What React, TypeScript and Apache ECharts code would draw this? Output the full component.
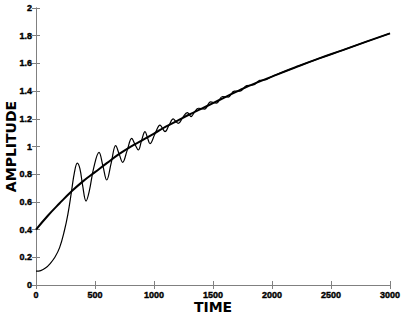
import React, { useEffect, useRef } from "react";
import * as echarts from "echarts";

// smooth (envelope) curve: [time, amplitude]
const smoothTime = [0, 100, 200, 300, 400, 500, 600, 700, 800, 900, 1000, 1100, 1200, 1300, 1400, 1500, 1600, 1700, 1800, 2000, 2200, 2400, 2600, 2800, 3000];
const smoothAmp = [0.40, 0.50, 0.59, 0.675, 0.75, 0.815, 0.88, 0.943, 0.998, 1.045, 1.093, 1.143, 1.187, 1.231, 1.272, 1.313, 1.355, 1.396, 1.436, 1.505, 1.572, 1.636, 1.696, 1.757, 1.817];

// oscillating curve: [time, amplitude]
const oscTime = [0, 40, 80, 120, 160, 200, 240, 270, 300, 325, 350, 372, 395, 424, 452, 490, 534, 567, 599, 637, 675, 705, 734, 772, 811, 839, 867, 895, 924, 945, 966, 1008, 1051, 1072, 1093, 1128, 1163, 1185, 1206, 1244, 1282, 1298, 1313, 1345, 1376, 1428, 1480, 1530, 1580, 1630, 1680, 1730, 1785, 1840, 1895, 1950, 2000, 2200, 2400, 2600, 2800, 3000];
const oscAmp = [0.100, 0.104, 0.122, 0.155, 0.20, 0.27, 0.39, 0.51, 0.67, 0.81, 0.88, 0.84, 0.72, 0.606, 0.68, 0.85, 0.958, 0.86, 0.758, 0.88, 1.006, 0.945, 0.886, 0.97, 1.059, 1.015, 0.975, 1.045, 1.107, 1.063, 1.02, 1.09, 1.155, 1.131, 1.107, 1.155, 1.20, 1.18, 1.167, 1.21, 1.245, 1.232, 1.215, 1.25, 1.276, 1.270, 1.322, 1.313, 1.361, 1.357, 1.400, 1.400, 1.440, 1.444, 1.477, 1.483, 1.505, 1.572, 1.636, 1.696, 1.757, 1.817];

const xTicks = ["0", "500", "1000", "1500", "2000", "2500", "3000"];
const yTicks = ["0", "0.2", "0.4", "0.6", "0.8", "1", "1.2", "1.4", "1.6", "1.8", "2"];

export default function App() {
  const ref = useRef<HTMLDivElement>(null);
  useEffect(() => {
    if (!ref.current) return;
    const chart = echarts.init(ref.current, null, { renderer: "svg" });
    const axisGrey = "#808080";
    const labelFont = { color: "#000", fontWeight: 700, fontSize: 9, fontFamily: "'Liberation Sans', Arial, sans-serif", textBorderColor: "#000", textBorderWidth: 0.4 };
    const nameFont = { color: "#000", fontWeight: 700, fontSize: 14, fontFamily: "'DejaVu Sans', sans-serif" };
    chart.setOption({
      animation: false,
      backgroundColor: "#fff",
      grid: { left: 36, right: 19, top: 8, bottom: 31, containLabel: false, outerBoundsMode: "none" },
      xAxis: [
        {
          type: "value", min: 0, max: 3000, interval: 500,
          name: "TIME", nameLocation: "middle", nameGap: 15, nameMoveOverlap: false, nameTextStyle: nameFont,
          axisLine: { show: true, lineStyle: { color: axisGrey, width: 1 } },
          axisTick: { show: true, inside: true, length: 4, lineStyle: { color: axisGrey } },
          axisLabel: { ...labelFont, margin: 5, formatter: (v: number) => xTicks[Math.round(v / 500)] ?? "" },
          splitLine: { show: false },
        },
        {
          type: "value", min: 0, max: 3000, interval: 500, position: "top",
          axisLine: { show: true, lineStyle: { color: axisGrey, width: 1 } },
          axisTick: { show: true, inside: true, length: 4, lineStyle: { color: axisGrey } },
          axisLabel: { show: false },
          splitLine: { show: false },
        },
      ],
      yAxis: [
        {
          type: "value", min: 0, max: 2, interval: 0.2,
          name: "AMPLITUDE", nameLocation: "middle", nameGap: 18, nameMoveOverlap: false, nameTextStyle: nameFont,
          axisLine: { show: true, lineStyle: { color: axisGrey, width: 1 } },
          axisTick: { show: true, inside: true, length: 4, lineStyle: { color: axisGrey } },
          axisLabel: { ...labelFont, margin: 4, formatter: (v: number) => yTicks[Math.round(v / 0.2)] ?? "" },
          splitLine: { show: false },
        },
        {
          type: "value", min: 0, max: 2, interval: 0.2, position: "right",
          axisLine: { show: true, lineStyle: { color: axisGrey, width: 1 } },
          axisTick: { show: true, inside: true, length: 4, lineStyle: { color: axisGrey } },
          axisLabel: { show: false },
          splitLine: { show: false },
        },
      ],
      series: [
        {
          type: "line",
          data: smoothTime.map((t, i) => [t, smoothAmp[i]]),
          smooth: true,
          showSymbol: false,
          lineStyle: { color: "#000", width: 2 },
        },
        {
          type: "line",
          data: oscTime.map((t, i) => [t, oscAmp[i]]),
          smooth: 0.4,
          showSymbol: false,
          lineStyle: { color: "#000", width: 1.2 },
        },
      ],
    });
    return () => chart.dispose();
  }, []);
  return <div ref={ref} style={{ width: 409, height: 316, position: "absolute", left: 0, top: 0 }} />;
}
